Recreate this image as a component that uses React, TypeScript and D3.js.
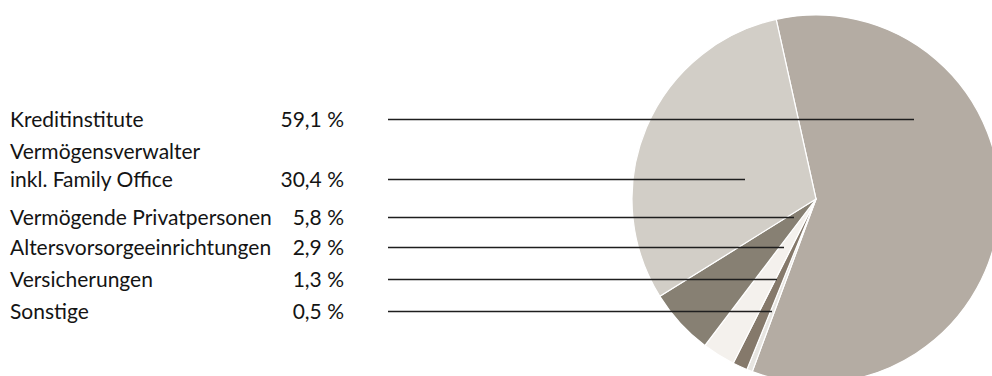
import React from "react";
import * as d3 from "d3";

const categories = [
  "Kreditinstitute",
  "Vermögensverwalter inkl. Family Office",
  "Vermögende Privatpersonen",
  "Altersvorsorgeeinrichtungen",
  "Versicherungen",
  "Sonstige",
];
const labelLines = [
  ["Kreditinstitute"],
  ["Vermögensverwalter", "inkl. Family Office"],
  ["Vermögende Privatpersonen"],
  ["Altersvorsorgeeinrichtungen"],
  ["Versicherungen"],
  ["Sonstige"],
];
const values = [59.1, 30.4, 5.8, 2.9, 1.3, 0.5];
const valueLabels = ["59,1 %", "30,4 %", "5,8 %", "2,9 %", "1,3 %", "0,5 %"];
// pie drawing order (clockwise from start)
const pieOrder = [0, 5, 4, 3, 2, 1];
const colors = ["#b4aca3", "#d2cec7", "#878073", "#f4f1ed", "#85796b", "#e7e5e1"];

// layout
const W = 992, H = 376;
const cx = 816, cy = 199, R = 184;
const startDeg = -12.5;
const rowY = [119, 179, 217, 247, 279, 311];
const leaderEndDx = [98, -71, -22, -32, -39, -44];
const lineStartX = 388;
const labelX = 10;
const valueRightX = 344;
const FONT = "Lato, 'Open Sans', sans-serif";
const FS = 21;

export default function App() {
  const pieData = d3
    .pie<number>()
    .sort(null)
    .value((i) => values[i])
    .startAngle((startDeg * Math.PI) / 180)
    .endAngle((startDeg * Math.PI) / 180 + 2 * Math.PI)(pieOrder);
  const arc = d3.arc<d3.PieArcDatum<number>>().innerRadius(0).outerRadius(R);

  return (
    <svg width={W} height={H} style={{ position: "absolute", left: 0, top: 0 }}>
      <g transform={`translate(${cx},${cy})`}>
        {pieData.map((d) => (
          <path key={d.data} d={arc(d) || ""} fill={colors[d.data]} stroke="#fff" strokeWidth={1.2} strokeLinejoin="round" />
        ))}
      </g>
      {categories.map((c, i) => (
        <g key={c}>
          <line x1={lineStartX} x2={cx + leaderEndDx[i]} y1={rowY[i] + 0.5} y2={rowY[i] + 0.5} stroke="#1e1e1e" strokeWidth={1.3} />
          {labelLines[i].map((t, j, arr) => (
            <text key={j} x={labelX} y={rowY[i] + 8 - (arr.length - 1 - j) * 28} fontFamily={FONT} fontSize={FS} fill="#141414">
              {t}
            </text>
          ))}
          <text x={valueRightX} y={rowY[i] + 8} textAnchor="end" fontFamily={FONT} fontSize={FS} fill="#141414">
            {valueLabels[i]}
          </text>
        </g>
      ))}
    </svg>
  );
}
